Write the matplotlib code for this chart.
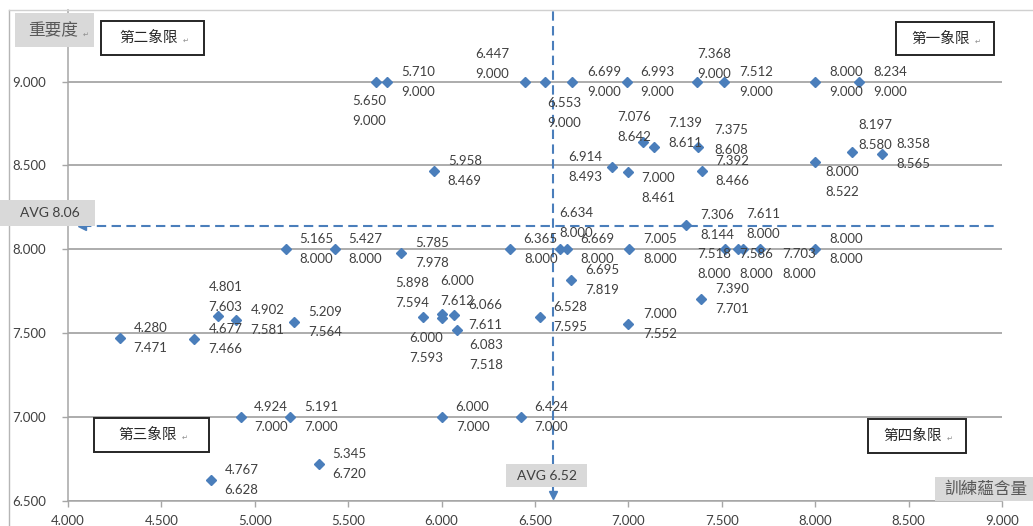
import matplotlib
matplotlib.use("Agg")
import matplotlib.pyplot as plt
from matplotlib.patches import Rectangle
from matplotlib.lines import Line2D

# ---------------- data ----------------
x_vals = [5.650, 5.710, 6.447, 6.553, 6.699, 6.993, 7.368, 7.512, 8.000, 8.234,
          7.076, 7.139, 7.375, 8.197, 8.358, 8.000, 6.914, 5.958, 7.392, 7.000,
          7.306,
          5.165, 5.427, 6.365, 6.634, 6.669, 7.005, 7.518, 7.586, 7.611, 7.703, 8.000,
          5.785, 6.695, 7.390,
          4.801, 4.902, 5.209, 4.280, 4.677, 5.898, 6.000, 6.000, 6.066, 6.083, 6.528, 7.000,
          4.924, 5.191, 6.000, 6.424,
          5.345, 4.767]
y_vals = [9.000, 9.000, 9.000, 9.000, 9.000, 9.000, 9.000, 9.000, 9.000, 9.000,
          8.642, 8.611, 8.608, 8.580, 8.565, 8.522, 8.493, 8.469, 8.466, 8.461,
          8.144,
          8.000, 8.000, 8.000, 8.000, 8.000, 8.000, 8.000, 8.000, 8.000, 8.000, 8.000,
          7.978, 7.819, 7.701,
          7.603, 7.581, 7.564, 7.471, 7.466, 7.594, 7.612, 7.593, 7.611, 7.518, 7.595, 7.552,
          7.000, 7.000, 7.000, 7.000,
          6.720, 6.628]

x_ticks = [4.0, 4.5, 5.0, 5.5, 6.0, 6.5, 7.0, 7.5, 8.0, 8.5, 9.0]
y_ticks = [6.5, 7.0, 7.5, 8.0, 8.5, 9.0]

avg_x_label = "AVG 6.52"
avg_y_label = "AVG 8.06"
avg_x_line = 6.595
avg_y_line = 8.136

x_title = "訓練蘊含量"
y_title = "重要度"
quadrant_names = ["第一象限", "第二象限", "第三象限", "第四象限"]

# label offsets (pixels: right, down) of each two-line data label centre
label_offsets = [(-7, 29), (31, 0), (-33, -17.5), (19, 31), (32, 0), (30, 0), (17, -17.5), (32, 0), (31, 0), (31, 0),
                 (-8, -15), (31, -14), (33, -7), (23, -17), (31, 0), (27, 20), (-27, 0), (31, 0), (31, 0), (30, 16),
                 (32, 0),
                 (31, 0), (31, 0), (31, 0), (16, -26), (31, 0), (31, 0), (-11, 15), (18, 15), (21, -25), (39, 15), (31, 0),
                 (31, 0), (31, 0), (31, 0),
                 (8, -19), (31, 0), (31, 0), (30, 0), (31, 0), (-10, -24), (16, -23), (-15, 30), (31, 0), (29, 25), (30, 0), (32, 0),
                 (30, 0), (31, 0), (31, 0), (30, 0),
                 (30, 0), (30, 0)]

# ---------------- style ----------------
W, H = 1033, 526
BLUE = "#4A7EBB"
GRID = "#a6a6a6"
TXT = "#404040"
NUM_FONT = ["Lato", "DejaVu Sans"]
CJK_FONT = ["Noto Sans CJK TC", "DejaVu Sans"]

fig = plt.figure(figsize=(W / 100, H / 100), dpi=100)
fig.patch.set_facecolor("white")

ax_left, ax_right, ax_bottom, ax_top = 68, 1002, 501, 10
ax = fig.add_axes([ax_left / W, (H - ax_bottom) / H, (ax_right - ax_left) / W, (ax_bottom - ax_top) / H])
ax.set_xlim(4.0, 9.0)
ppu_y = (ax_bottom - 81.5) / 2.5
ax.set_ylim(6.5, 9.0 + (81.5 - ax_top) / ppu_y)

ax.set_xticks(x_ticks)
ax.set_yticks(y_ticks)
ax.set_xticklabels([f"{t:.3f}" for t in x_ticks], fontfamily=NUM_FONT, fontsize=9.5, color=TXT)
ax.set_yticklabels([f"{t:.3f}" for t in y_ticks], fontfamily=NUM_FONT, fontsize=9.5, color=TXT)
ax.tick_params(axis="both", direction="out", length=4, width=1, color=GRID, pad=6)
ax.tick_params(axis="y", pad=12)
for s in ["top", "right"]:
    ax.spines[s].set_visible(False)
for s in ["left", "bottom"]:
    ax.spines[s].set_color(GRID)
    ax.spines[s].set_linewidth(1.1)
ax.yaxis.grid(True, color=GRID, linewidth=1.3)
ax.set_axisbelow(True)

# average lines with arrow heads
dash = (0, (4.5, 2.6))
ax.plot([4.075, 8.97], [avg_y_line, avg_y_line], color=BLUE, lw=1.5, linestyle=dash, zorder=2)
ax.plot([4.075], [avg_y_line], marker="<", ms=6, color=BLUE, zorder=2)
ax.plot([avg_x_line, avg_x_line], [6.54, ax.get_ylim()[1]], color=BLUE, lw=1.5, linestyle=dash, zorder=2)
ax.plot([avg_x_line], [6.535], marker="v", ms=6, color=BLUE, zorder=2)

# points
ax.plot(x_vals, y_vals, linestyle="none", marker="D", ms=4.9, color=BLUE, zorder=3)

for x, y, (dx, dy) in zip(x_vals, y_vals, label_offsets):
    ax.annotate(f"{x:.3f}\n{y:.3f}", (x, y), xytext=(dx, -dy), textcoords="offset pixels",
                ha="center", va="center", fontsize=9.5, fontfamily=NUM_FONT, color=TXT,
                linespacing=1.8, zorder=4)


def fig_box(x0, y0, x1, y1, face, edge=None, lw=0):
    r = Rectangle((x0 / W, 1 - y1 / H), (x1 - x0) / W, (y1 - y0) / H, transform=fig.transFigure,
                  facecolor=face, edgecolor=edge if edge else face, linewidth=lw, zorder=5)
    fig.add_artist(r)


def fig_text(x, y, s, **kw):
    fig.text(x / W, 1 - y / H, s, ha="center", va="center", zorder=6, **kw)


# outer frame lines
fig.add_artist(Line2D([8.5 / W, 8.5 / W], [0, 1 - 10 / H], transform=fig.transFigure, color="#b5b5b5", lw=1))
fig.add_artist(Line2D([8.5 / W, 1], [1 - 10 / H, 1 - 10 / H], transform=fig.transFigure, color="#d0d0d0", lw=1))

# gray labels
fig_box(15, 13, 94, 47, "#d9d9d9")
fig_text(53, 31, y_title, fontfamily=CJK_FONT, fontsize=12, color="#595959")
fig_text(86, 35, "↵", fontfamily=["DejaVu Sans"], fontsize=5, color="#8c8c8c")

fig_box(0, 200, 95, 226, "#d9d9d9")
fig_text(50, 213, avg_y_label, fontfamily=NUM_FONT, fontsize=10, color=TXT)

fig_box(506, 464, 587, 487, "#d9d9d9")
fig_text(547, 476, avg_x_label, fontfamily=NUM_FONT, fontsize=10, color=TXT)

fig_box(935, 477, 1033, 501, "#d9d9d9")
fig_text(986, 489, x_title, fontfamily=CJK_FONT, fontsize=12, color="#595959")

# quadrant boxes
quad_boxes = [(896, 22, 994, 55), (101, 21, 204, 55), (94, 418, 209, 452), (868, 419, 966, 453)]
for name, (x0, y0, x1, y1) in zip(quadrant_names, quad_boxes):
    fig_box(x0, y0, x1, y1, "white", edge="#262626", lw=1.4)
    cx = (x0 + x1) / 2 - 4
    fig_text(cx, (y0 + y1) / 2, name, fontfamily=CJK_FONT, fontsize=10.5, color="#262626")
    fig_text(cx + 37, (y0 + y1) / 2 + 3, "↵", fontfamily=["DejaVu Sans"], fontsize=5, color="#8c8c8c")

fig.savefig("out.png", dpi=100)
